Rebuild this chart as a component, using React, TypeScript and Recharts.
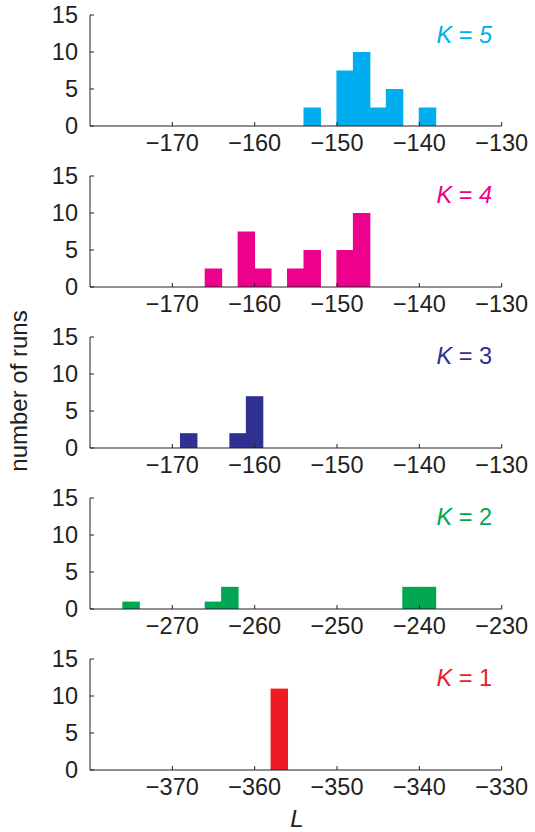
import React from 'react'
import { BarChart, Bar, XAxis, YAxis } from 'recharts'

// bin centres (L) and number of runs; bins are 2 units wide
const k5Bins = [-153, -149, -147, -145, -143, -139]
const k5Runs = [2.5, 7.5, 10, 2.5, 5, 2.5]

const k4Bins = [-165, -161, -159, -155, -153, -149, -147]
const k4Runs = [2.5, 7.5, 2.5, 2.5, 5, 5, 10]

const k3Bins = [-168, -162, -160]
const k3Runs = [2, 2, 7]

const k2Bins = [-275, -265, -263, -241, -239]
const k2Runs = [1, 1, 3, 3, 3]

const k1Bins = [-359, -357, -355]
const k1Runs = [0, 11, 0]

const ticksA = [-170, -160, -150, -140, -130]
const ticksB = [-270, -260, -250, -240, -230]
const ticksC = [-370, -360, -350, -340, -330]
const yTicks = [0, 5, 10, 15]

const panels = [
  { k: 5, bins: k5Bins, runs: k5Runs, ticks: ticksA, domain: [-180, -130], color: '#00aeef', italicK: true },
  { k: 4, bins: k4Bins, runs: k4Runs, ticks: ticksA, domain: [-180, -130], color: '#ec008c', italicK: true },
  { k: 3, bins: k3Bins, runs: k3Runs, ticks: ticksA, domain: [-180, -130], color: '#2e3192', italicK: false },
  { k: 2, bins: k2Bins, runs: k2Runs, ticks: ticksB, domain: [-280, -230], color: '#00a651', italicK: false },
  { k: 1, bins: k1Bins, runs: k1Runs, ticks: ticksC, domain: [-380, -330], color: '#ed1c24', italicK: false },
]

const font = '"Liberation Sans", Arial, Helvetica, sans-serif'
const ink = '#231f20'
const fs = 23.5

const W = 535
const PLOT_TOP = 15
const PLOT_H = 111
const STEP = 160.9
const LEFT = 90
const RIGHT = 501.7
const BIN_PX = ((RIGHT - LEFT) / 50) * 2

const fmt = (v: number) => String(v).replace('-', '\u2212')

// histogram bars: pad each side a little so neighbouring bins join without a seam
const HistBar = (props: any) => {
  const { x, y, width, height, fill } = props
  if (!height) return null
  return <rect x={x - 0.6} y={y} width={width + 1.2} height={height} fill={fill} />
}

function Panel({ p, top }: { p: typeof panels[number]; top: number }) {
  const data = p.bins.map((b, i) => ({ L: b, runs: p.runs[i] }))
  const tickStyle = { fontSize: fs, fontFamily: font, fill: ink }
  return (
    <div style={{ position: 'absolute', left: 0, top: top - PLOT_TOP, width: W }}>
      <BarChart
        width={W}
        height={PLOT_TOP + PLOT_H + 40}
        data={data}
        margin={{ top: PLOT_TOP, right: W - RIGHT, bottom: 0, left: LEFT - 50 }}
      >
        <XAxis
          dataKey="L"
          type="number"
          domain={p.domain}
          ticks={p.ticks}
          interval={0}
          allowDataOverflow
          height={40}
          tickFormatter={fmt}
          tick={tickStyle}
          tickSize={-4}
          tickMargin={12}
          axisLine={{ stroke: ink, strokeWidth: 1 }}
          tickLine={{ stroke: ink }}
        />
        <XAxis
          xAxisId="top"
          orientation="top"
          dataKey="L"
          type="number"
          domain={p.domain}
          ticks={p.ticks}
          interval={0}
          allowDataOverflow
          height={0}
          tick={false}
          tickSize={-4}
          axisLine={{ stroke: ink, strokeWidth: 1 }}
          tickLine={{ stroke: ink }}
        />
        <YAxis
          type="number"
          domain={[0, 15]}
          ticks={yTicks}
          interval={0}
          width={50}
          tick={tickStyle}
          tickSize={-4}
          tickMargin={16}
          axisLine={{ stroke: ink, strokeWidth: 1 }}
          tickLine={{ stroke: ink }}
        />
        <YAxis
          yAxisId="right"
          orientation="right"
          type="number"
          domain={[0, 15]}
          ticks={yTicks}
          interval={0}
          width={0}
          tick={false}
          tickSize={-4}
          axisLine={{ stroke: ink, strokeWidth: 1 }}
          tickLine={{ stroke: ink }}
        />
        <Bar
          dataKey="runs"
          fill={p.color}
          barSize={BIN_PX - 0.2}
          shape={HistBar}
          isAnimationActive={false}
        />
      </BarChart>
      <div
        style={{
          position: 'absolute',
          right: W - 492,
          top: PLOT_TOP + 8.5,
          fontFamily: font,
          fontSize: fs,
          lineHeight: `${fs}px`,
          color: p.color,
          whiteSpace: 'nowrap',
        }}
      >
        <i>K</i> = {p.italicK ? <i>{p.k}</i> : p.k}
      </div>
    </div>
  )
}

export default function App() {
  return (
    <div style={{ position: 'absolute', left: 0, top: 0, width: W, height: 832, background: '#fff' }}>
      {panels.map((p, i) => (
        <Panel key={p.k} p={p} top={PLOT_TOP + i * STEP} />
      ))}
      <svg width={W} height={832} style={{ position: 'absolute', left: 0, top: 0, pointerEvents: 'none' }}>
        <text
          x={27}
          y={391}
          transform="rotate(-90 27 391)"
          textAnchor="middle"
          fontFamily={font}
          fontSize={24}
          fill={ink}
        >
          number of runs
        </text>
        <text x={297} y={827} textAnchor="middle" fontFamily={font} fontSize={24} fontStyle="italic" fill={ink}>
          L
        </text>
      </svg>
    </div>
  )
}
